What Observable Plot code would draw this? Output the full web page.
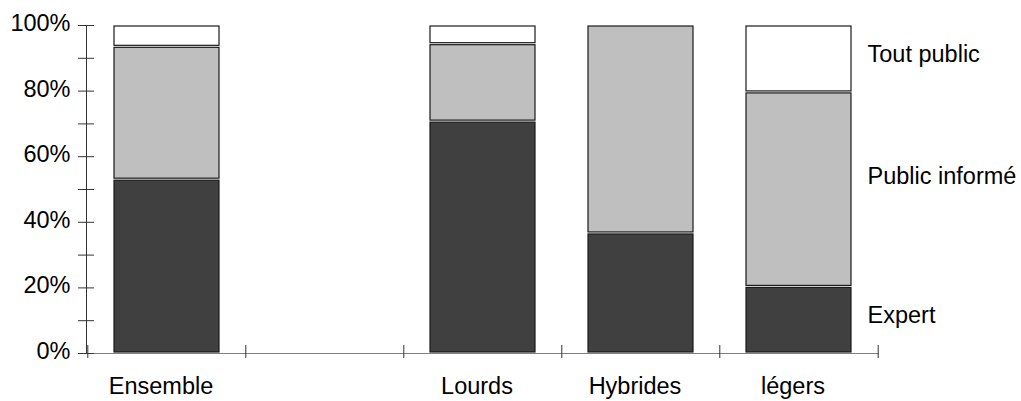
<!DOCTYPE html>
<html>
<head>
<meta charset="utf-8">
<script src="https://cdn.jsdelivr.net/npm/d3@7"></script>
<script src="https://cdn.jsdelivr.net/npm/@observablehq/plot@0.6"></script>
<style>
  html, body { margin: 0; padding: 0; background: #fff; }
  #chart svg { display: block; }
</style>
</head>
<body>
<div id="chart"></div>
<script>
// Data
const categories = ["Ensemble", " ", "Lourds", "Hybrides", "légers"];
const barCategories = ["Ensemble", "Lourds", "Hybrides", "légers"];
const series = ["Expert", "Public informé", "Tout public"];
const expert        = [53.0, 70.7, 36.6, 20.3];
const publicInforme = [40.5, 23.6, 63.4, 59.3];
const toutPublic    = [6.5, 5.7, 0.0, 20.4];
const yMajorTicks = [0, 20, 40, 60, 80, 100];
const yAllTicks = [0, 10, 20, 30, 40, 50, 60, 70, 80, 90, 100];
const legendY = [11.6, 54, 91.2]; // vertical anchor of the right-hand labels, in % units

const values = [expert, publicInforme, toutPublic];
const rows = [];
barCategories.forEach((c, i) => {
  series.forEach((s, j) => rows.push({cat: c, series: s, value: values[j][i]}));
});

const fills = ["#404040", "#bfbfbf", "#ffffff"];
const W = 1021, H = 401;
const mL = 86, mR = 143, mT = 25, mB = 48;
const step = (W - mL - mR) / categories.length;
const font = "Liberation Sans, Arial, sans-serif";
const fs = 23.5;

const chart = Plot.plot({
  width: W,
  height: H,
  marginLeft: mL,
  marginRight: mR,
  marginTop: mT,
  marginBottom: mB,
  style: {fontFamily: font, fontSize: fs + "px", color: "#000", background: "#fff"},
  x: {type: "band", domain: categories, paddingInner: 0.337, paddingOuter: 0.1685, axis: null, label: null},
  y: {domain: [0, 100], axis: null, label: null},
  color: {domain: series, range: fills},
  marks: [
    Plot.barY(rows.filter(d => d.value > 0), Plot.stackY({
      x: "cat", y: "value", fill: "series", order: series,
      stroke: "#1a1a1a", strokeWidth: 1.2, insetTop: 1, insetBottom: 1
    })),
    // axis lines
    Plot.frame({anchor: "left", stroke: "#333"}),
    Plot.frame({anchor: "bottom", stroke: "#808080"}),
    // y ticks crossing the axis
    Plot.axisY({ticks: yAllTicks, tickSize: 16, dx: 8, fill: "none", stroke: "#333", label: null}),
    // y labels
    Plot.axisY({ticks: yMajorTicks, tickSize: 8, tickPadding: 8, stroke: "none", dy: -2,
      tickFormat: d => d + "%", fontSize: fs, label: null}),
    // x tick marks at slot boundaries
    Plot.axisX(categories, {tickSize: 13, dx: -step / 2, dy: -8, fill: "none", stroke: "#333", label: null}),
    Plot.axisX([categories[categories.length - 1]], {tickSize: 13, dx: step / 2, dy: -8, fill: "none", stroke: "#333", label: null}),
    // x labels
    Plot.axisX(barCategories, {tickSize: 0, tickPadding: 24, dx: -6, stroke: "none", fontSize: fs, label: null}),
    // right-hand labels
    Plot.text(series, {
      y: (d, i) => legendY[i], text: d => d, frameAnchor: "right",
      textAnchor: "start", dx: -11, fontSize: fs, fill: "#000"
    })
  ]
});
document.getElementById("chart").appendChild(chart);
</script>
</body>
</html>
